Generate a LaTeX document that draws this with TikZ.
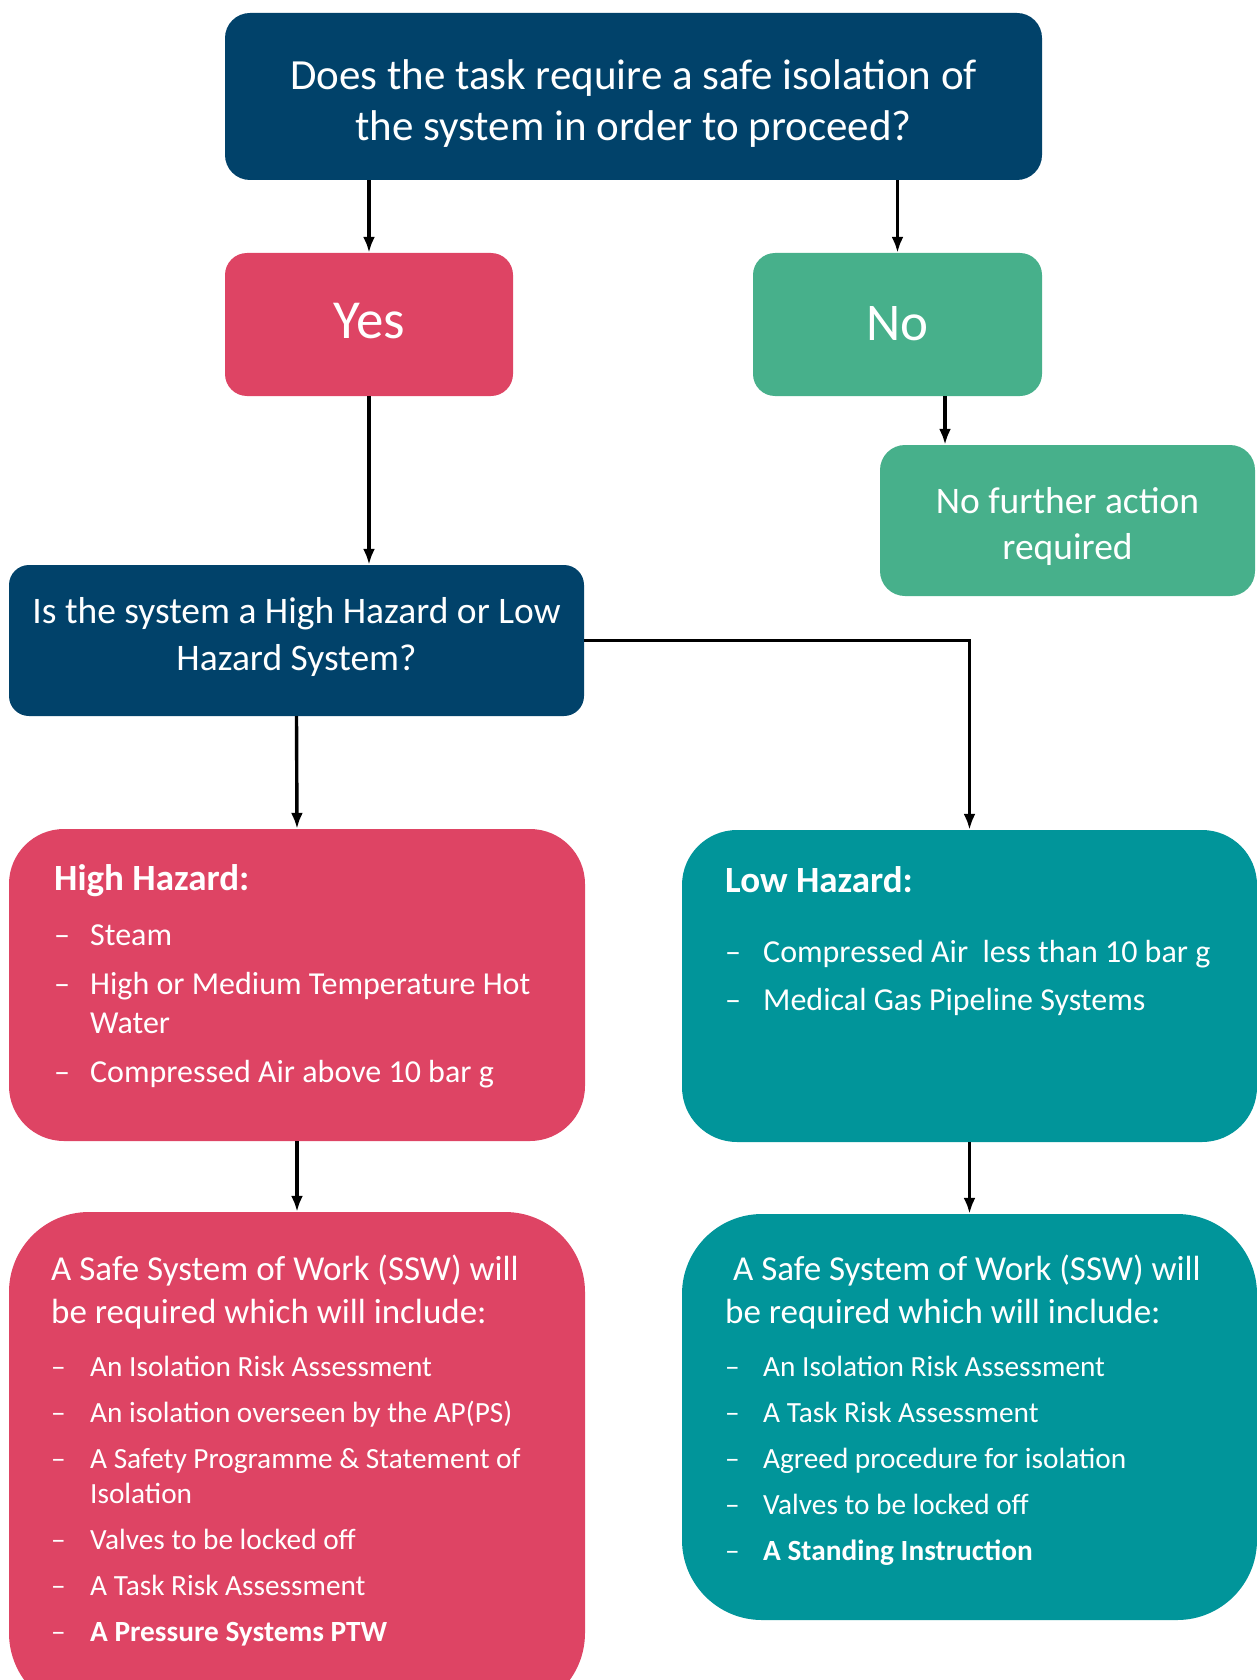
\documentclass[tikz,border=0pt]{standalone}
\usepackage{fontspec}
\setmainfont{Carlito}
\usetikzlibrary{arrows.meta,calc}

\definecolor{isonavy}{HTML}{01426A}
\definecolor{isored}{HTML}{DE4464}
\definecolor{isogreen}{HTML}{47B08B}
\definecolor{isoteal}{HTML}{01959A}

\newcommand{\dashitem}[2][36pt]{\par\hangindent=#1\hangafter=1\noindent\makebox[#1][l]{\textendash}#2}
\newcommand{\plainspace}{\spaceskip=\fontdimen2\font\xspaceskip=\fontdimen2\font\relax}
\newcommand{\listsetup}[1]{\setlength{\parskip}{#1}\spaceskip=0pt\xspaceskip=0pt\relax}

\begin{document}
\begin{tikzpicture}[x=1pt,y=-1pt,
  box/.style={rounded corners=#1, inner sep=0pt, text=white, align=center},
  box/.default=22pt,
  listtext/.style={text=white, align=left, text width=530pt, inner sep=0pt,
    anchor=base west},
  arr/.style={-{Latex[length=16pt,width=12pt]}, line width=3.4pt, black}]
\useasboundingbox (0,0) rectangle (1257,1680);
\clip (0,0) rectangle (1257,1680);

% Question boxes
\node[box=25pt, fill=isonavy, minimum width=817pt, minimum height=167pt,
  text width=800pt, text height=30pt, text depth=44.6pt,
  font=\fontsize{43}{51}\selectfont] (task) at (633.5,96.5)
  {\plainspace Does the task require a safe isolation of\\ the system in order to proceed?};
\node[box, fill=isored, minimum width=288pt, minimum height=143pt,
  text height=27.4pt, text depth=0pt,
  font=\fontsize{55}{60}\selectfont] (yes) at (369,324.5) {Yes};
\node[box, fill=isogreen, minimum width=289pt, minimum height=143pt,
  text height=32.6pt, text depth=0pt,
  font=\fontsize{53}{60}\selectfont] (no) at (897.5,324.5) {No};
\node[box=25pt, fill=isogreen, minimum width=375pt, minimum height=151pt,
  text width=360pt, text height=20pt, text depth=35pt,
  font=\fontsize{37.5}{46}\selectfont] (nfa) at (1067.5,520.5)
  {\plainspace No further action\\ required};
\node[box=20pt, fill=isonavy, minimum width=575pt, minimum height=151pt,
  text width=560pt, text height=20pt, text depth=55pt,
  font=\fontsize{37.5}{47}\selectfont] (hazq) at (296.5,640.5)
  {\plainspace Is the system a High Hazard or Low\\ Hazard System?};

% Hazard boxes
\node[box=55pt, fill=isored, minimum width=576pt, minimum height=312pt] (high) at (297,985) {};
\node[box=55pt, fill=isoteal, minimum width=575pt, minimum height=312pt] (low) at (969.5,986) {};

% SSW boxes
\node[box=80pt, fill=isored, minimum width=576pt, minimum height=501pt] (sswhigh) at (297,1462.5) {};
\node[box=80pt, fill=isoteal, minimum width=575pt, minimum height=406pt] (sswlow) at (969.5,1417) {};

% Lists
\node[listtext, font=\fontsize{32}{39}\selectfont] (hightxt) at (54,890) {%
  \listsetup{10pt}%
  {\fontsize{37}{39}\selectfont\bfseries High Hazard:}\par\vspace{6pt}
  \dashitem{Steam}
  \dashitem{High or Medium Temperature Hot\newline Water}
  \dashitem{Compressed Air above 10 bar g}\par};
\node[listtext, font=\fontsize{32}{39}\selectfont] (lowtxt) at (725,892) {%
  \listsetup{9pt}%
  {\fontsize{37}{39}\selectfont\bfseries Low Hazard:}\par\vspace{22pt}
  \dashitem[38pt]{Compressed Air~ less than 10 bar g}
  \dashitem[38pt]{Medical Gas Pipeline Systems}\par};
\node[listtext, font=\fontsize{29.3}{35}\selectfont] (sswhightxt) at (51,1280) {%
  \listsetup{11pt}%
  {\fontsize{35}{43}\selectfont A Safe System of Work (SSW) will\\ be required which will include:\par}\vspace{7pt}
  \dashitem[39pt]{An Isolation Risk Assessment}
  \dashitem[39pt]{An isolation overseen by the AP(PS)}
  \dashitem[39pt]{A Safety Programme \& Statement of\newline Isolation}
  \dashitem[39pt]{Valves to be locked off}
  \dashitem[39pt]{A Task Risk Assessment}
  \dashitem[39pt]{\textbf{A Pressure Systems PTW}}\par};
\node[listtext, font=\fontsize{29.3}{35}\selectfont] (sswlowtxt) at (725,1280) {%
  \listsetup{11pt}%
  {\fontsize{35}{43}\selectfont ~A Safe System of Work (SSW) will\\ be required which will include:\par}\vspace{7pt}
  \dashitem[38pt]{An Isolation Risk Assessment}
  \dashitem[38pt]{A Task Risk Assessment}
  \dashitem[38pt]{Agreed procedure for isolation}
  \dashitem[38pt]{Valves to be locked off}
  \dashitem[38pt]{\textbf{A Standing Instruction}}\par};

% Connectors
\draw[arr] (task.south -| yes.north) -- (yes.north);
\draw[arr] (task.south -| no.north) -- (no.north);
\draw[arr] ([xshift=47.5pt]no.south) -- ([xshift=47.5pt]no.south |- nfa.north);
\draw[arr] (yes.south) -- (yes.south |- hazq.north);
\draw[arr] (hazq.south) -- (high.north);
\draw[arr] (hazq.east) -| (low.north);
\draw[arr] (high.south) -- (sswhigh.north);
\draw[arr] (low.south) -- (sswlow.north);
\end{tikzpicture}
\end{document}
